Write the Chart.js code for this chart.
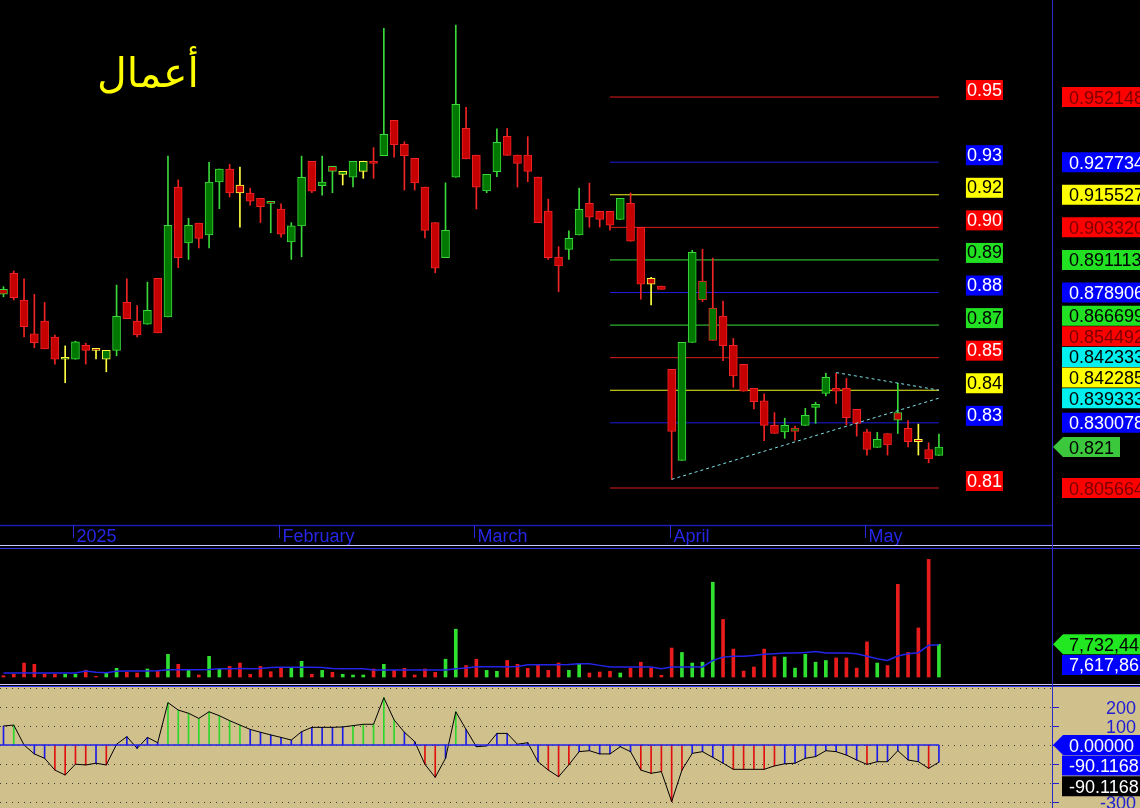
<!DOCTYPE html>
<html>
<head>
<meta charset="utf-8">
<script src="https://cdn.jsdelivr.net/npm/chart.js@4.4.1/dist/chart.umd.min.js"></script>
<style>
  body { margin: 0; background: #000; width: 1140px; height: 808px; overflow: hidden; position: relative; }
  canvas { position: absolute; left: 0; }
  #title { position: absolute; left: 97px; top: 53px; color: #ffff00; font: 41px/41px "DejaVu Sans", sans-serif; white-space: nowrap; direction: rtl; }
  .sep { position: absolute; left: 0; width: 1140px; height: 1px; }
  #vline { position: absolute; left: 1052px; top: 0; width: 1px; height: 808px; background: #2a2ac8; }
</style>
</head>
<body>
<canvas id="priceChart" width="1140" height="545" style="top:0"></canvas>
<canvas id="volumeChart" width="1140" height="135" style="top:549px"></canvas>
<canvas id="cciChart" width="1140" height="121" style="top:687px"></canvas>
<div class="sep" style="top:545px;background:#c8c8ff"></div>
<div class="sep" style="top:548px;background:#3232e6"></div>
<div class="sep" style="top:684px;background:#c8c8ff"></div>
<div class="sep" style="top:686px;background:#3232e6"></div>
<div id="vline"></div>
<div id="title">أعمال</div>

<script>
// ---- data (one entry per trading session, Dec 2024 - May 2025) ----
const monthStarts = [7, 27, 46, 65, 84];
const monthNames = ['2025', 'February', 'March', 'April', 'May'];

const open = [0.8801, 0.8861, 0.8761, 0.8634, 0.8682, 0.8622, 0.8539, 0.8539, 0.8591, 0.8580,
  0.8539, 0.8572, 0.8752, 0.8682, 0.8670, 0.8842, 0.8698, 0.9184, 0.8975, 0.9049,
  0.9005, 0.9203, 0.9252, 0.9192, 0.9162, 0.9142, 0.9124, 0.9102, 0.8979, 0.9039,
  0.9281, 0.9189, 0.9262, 0.9232, 0.9221, 0.9243, 0.9281, 0.9302, 0.9434, 0.9344,
  0.9292, 0.9184, 0.9051, 0.8920, 0.9221, 0.9404, 0.9304, 0.9170, 0.9242, 0.9374,
  0.9304, 0.9304, 0.9222, 0.9094, 0.8922, 0.8951, 0.9005, 0.9123, 0.9093, 0.9093,
  0.9063, 0.9123, 0.9033, 0.8842, 0.8813, 0.8501, 0.8160, 0.8602, 0.8761, 0.8610,
  0.8701, 0.8591, 0.8520, 0.8430, 0.8383, 0.8291, 0.8267, 0.8269, 0.8291, 0.8359,
  0.8411, 0.8430, 0.8430, 0.8351, 0.8267, 0.8209, 0.8261, 0.8339, 0.8280, 0.8239,
  0.8201, 0.8179];
const high = [0.8811, 0.8870, 0.8840, 0.8782, 0.8752, 0.8630, 0.8589, 0.8607, 0.8599, 0.8580,
  0.8572, 0.8817, 0.8840, 0.8740, 0.8828, 0.8842, 0.9300, 0.9211, 0.9067, 0.9049,
  0.9277, 0.9252, 0.9269, 0.9259, 0.9180, 0.9142, 0.9124, 0.9121, 0.9051, 0.9300,
  0.9281, 0.9300, 0.9262, 0.9243, 0.9281, 0.9281, 0.9332, 0.9779, 0.9434, 0.9354,
  0.9292, 0.9184, 0.9051, 0.9200, 0.9791, 0.9483, 0.9304, 0.9232, 0.9402, 0.9404,
  0.9304, 0.9373, 0.9222, 0.9139, 0.8961, 0.9020, 0.9180, 0.9199, 0.9093, 0.9093,
  0.9142, 0.9162, 0.9033, 0.8846, 0.8813, 0.8501, 0.8602, 0.8947, 0.8951, 0.8918,
  0.8757, 0.8617, 0.8520, 0.8430, 0.8409, 0.8339, 0.8318, 0.8289, 0.8355, 0.8378,
  0.8486, 0.8486, 0.8467, 0.8351, 0.8276, 0.8265, 0.8261, 0.8449, 0.8309, 0.8296,
  0.8226, 0.8259];
const low = [0.8773, 0.8761, 0.8623, 0.8582, 0.8578, 0.8521, 0.8451, 0.8539, 0.8521, 0.8540,
  0.8492, 0.8552, 0.8691, 0.8623, 0.8670, 0.8638, 0.8698, 0.8882, 0.8913, 0.8956,
  0.8956, 0.9103, 0.9147, 0.9034, 0.9116, 0.9051, 0.9013, 0.8996, 0.8913, 0.8923,
  0.9163, 0.9154, 0.9163, 0.9192, 0.9185, 0.9217, 0.9217, 0.9302, 0.9296, 0.9173,
  0.9173, 0.8994, 0.8863, 0.8920, 0.9221, 0.9290, 0.9102, 0.9163, 0.9223, 0.9303,
  0.9184, 0.9204, 0.9051, 0.8913, 0.8792, 0.8913, 0.9005, 0.9034, 0.9034, 0.9023,
  0.9063, 0.8981, 0.8764, 0.8743, 0.8801, 0.8089, 0.8160, 0.8602, 0.8755, 0.8610,
  0.8534, 0.8434, 0.8419, 0.8353, 0.8234, 0.8261, 0.8243, 0.8236, 0.8291, 0.8299,
  0.8402, 0.8374, 0.8293, 0.8251, 0.8180, 0.8209, 0.8180, 0.8261, 0.8211, 0.8180,
  0.8151, 0.8179];
const close = [0.8783, 0.8770, 0.8661, 0.8601, 0.8578, 0.8539, 0.8539, 0.8604, 0.8572, 0.8572,
  0.8572, 0.8700, 0.8691, 0.8630, 0.8722, 0.8638, 0.9041, 0.8920, 0.9041, 0.8992,
  0.9203, 0.9252, 0.9162, 0.9162, 0.9131, 0.9111, 0.9123, 0.9008, 0.9039, 0.9221,
  0.9169, 0.9203, 0.9243, 0.9243, 0.9281, 0.9281, 0.9273, 0.9382, 0.9343, 0.9302,
  0.9200, 0.9022, 0.8880, 0.9022, 0.9494, 0.9290, 0.9184, 0.9232, 0.9352, 0.9303,
  0.9273, 0.9243, 0.9051, 0.8920, 0.8889, 0.8992, 0.9101, 0.9071, 0.9063, 0.9041,
  0.9142, 0.8981, 0.8820, 0.8820, 0.8801, 0.8269, 0.8602, 0.8940, 0.8832, 0.8731,
  0.8590, 0.8477, 0.8419, 0.8380, 0.8291, 0.8261, 0.8291, 0.8281, 0.8329, 0.8370,
  0.8471, 0.8419, 0.8320, 0.8299, 0.8201, 0.8239, 0.8218, 0.8311, 0.8230, 0.8230,
  0.8166, 0.821];

const volume = [300000, 630000, 3300000, 3000000, 630000, 630000, 630000, 630000, 1600000, 150000,
  1100000, 2050000, 1100000, 950000, 1900000, 1340000, 5350000, 3000000, 1570000, 470000,
  4880000, 1900000, 2500000, 3300000, 630000, 2500000, 1260000, 2050000, 2050000, 3700000,
  630000, 1570000, 1100000, 630000, 470000, 470000, 1900000, 3000000, 1570000, 2050000,
  470000, 1900000, 1100000, 4200000, 11300000, 2700000, 4200000, 1570000, 1340000, 3900000,
  3000000, 2050000, 3000000, 1570000, 3300000, 1570000, 3150000, 950000, 1180000, 1340000,
  950000, 2100000, 3500000, 2100000, 400000, 6850000, 5800000, 3300000, 3500000, 22400000,
  13600000, 6600000, 1400000, 2360000, 6600000, 4800000, 4700000, 2100000, 5350000, 3500000,
  3900000, 4500000, 4500000, 2100000, 8300000, 3300000, 2700000, 21900000, 5800000, 11600000,
  27800000, 7732443];
const volumeAvg = [940000, 940000, 940000, 950000, 940000, 940000, 950000, 960000, 1420000, 1100000,
  1020000, 1340000, 1420000, 1420000, 1430000, 1450000, 1700000, 1730000, 1740000, 1730000,
  1760000, 1950000, 1970000, 1980000, 1970000, 2000000, 2250000, 2280000, 2290000, 2300000,
  2280000, 2250000, 1990000, 1970000, 1960000, 1950000, 1680000, 1650000, 1650000, 1640000,
  1650000, 1660000, 1650000, 1680000, 1970000, 2120000, 2420000, 2440000, 2450000, 2440000,
  2500000, 2880000, 2900000, 2910000, 2900000, 2930000, 3150000, 3150000, 2750000, 2380000,
  2360000, 2360000, 2370000, 2360000, 1970000, 2360000, 2350000, 2360000, 2380000, 3900000,
  4700000, 4900000, 4900000, 5100000, 5350000, 5500000, 5660000, 5660000, 5800000, 6050000,
  5660000, 5660000, 5660000, 5500000, 4900000, 4300000, 3900000, 4950000, 5500000, 5740000,
  7500000, 7617862];

const cci = [100, 105, 0, -47, -70, -132, -158, -101, -105, -96,
  -105, 4, 44, -18, 40, 12, 223, 184, 167, 140,
  175, 154, 128, 105, 82, 67, 53, 40, 26, 70,
  93, 93, 93, 95, 102, 109, 109, 249, 132, 67,
  18, -102, -170, -70, 175, 82, -9, -5, 61, 61,
  4, 12, -88, -132, -167, -104, -35, -30, -47, -47,
  -9, -35, -132, -149, -140, -298, -132, -44, -35, -65,
  -96, -128, -128, -128, -128, -110, -99, -96, -70, -61,
  -30, -35, -53, -79, -102, -88, -88, -30, -79, -88,
  -123, -90.1168];
const cciZero = 0;
const cciTicks = [200, 100, 0, -100, -200, -300];

const priceLevels = [0.952148, 0.927734, 0.915527, 0.903320, 0.891113, 0.878906, 0.866699, 0.854492, 0.842285, 0.830078, 0.805664];
const levelKinds = ['red', 'blue', 'yellow', 'red', 'green', 'blue', 'green', 'red', 'yellow', 'blue', 'red'];
const levelFrom = 59, levelTo = 91;

const trendUpperIdx = [81, 91], trendUpperVal = [0.8489, 0.842333];
const trendLowerIdx = [65, 91], trendLowerVal = [0.8089, 0.839333];

// ---- styling ----
const xMin = -0.34, xMax = 102;
const FONT = '18px "Liberation Sans", Arial, sans-serif';
const LINE = { red: '#e01c1c', blue: '#1c1cdc', yellow: '#f4f420', green: '#3cdc3c', cyan: '#80e4ee' };
const BOX = { red: '#ff0000', blue: '#0000ff', yellow: '#ffff00', green: '#22e022', cyan: '#00f0f0' };
const BOXTEXT = { red: '#7a0000', blue: '#ffffff', yellow: '#000000', green: '#000000', cyan: '#000000' };
const TAGTEXT = { red: '#ffffff', blue: '#ffffff', yellow: '#000000', green: '#000000', cyan: '#000000' };

const last = close.length - 1;
const edgeKind = close.map((c, i) => i === 0 ? 'up' : c > close[i - 1] ? 'up' : c < close[i - 1] ? 'down' : 'flat');
const edgeColor = edgeKind.map(k => k === 'up' ? '#3ad83a' : k === 'down' ? '#f02424' : '#ffff40');
const fillColor = close.map((c, i) => c >= open[i] ? '#007800' : '#c40000');

function baseOptions(yMin, yMax, padding) {
  return {
    responsive: false,
    animation: false,
    events: [],
    layout: { padding: padding },
    plugins: { legend: { display: false }, tooltip: { enabled: false } },
    scales: {
      x: { type: 'linear', min: xMin, max: xMax, display: false, offset: false },
      y: { min: yMin, max: yMax, display: false }
    }
  };
}

function drawTag(ctx, cy, text, bg, fg, arrow, right) {
  const left = arrow ? 1063 : 1062;
  right = right || 1140;
  ctx.fillStyle = bg;
  ctx.beginPath();
  if (arrow) { ctx.moveTo(1053, cy); ctx.lineTo(left, cy - 10); } else { ctx.moveTo(left, cy - 10); }
  ctx.lineTo(right, cy - 10);
  ctx.lineTo(right, cy + 10);
  ctx.lineTo(left, cy + 10);
  ctx.closePath();
  ctx.fill();
  ctx.fillStyle = fg;
  ctx.textAlign = 'left';
  ctx.fillText(text, 1069, cy + 6.5);
}

// ---- price panel ----
const priceOverlay = {
  id: 'priceOverlay',
  afterDraw(chart) {
    const { ctx, chartArea, scales: { x, y } } = chart;
    ctx.save();
    ctx.font = FONT;
    ctx.textBaseline = 'alphabetic';

    // time axis
    ctx.strokeStyle = '#1c1cb4';
    ctx.lineWidth = 1.5;
    ctx.beginPath();
    ctx.moveTo(0, chartArea.bottom + 0.5);
    ctx.lineTo(chartArea.right, chartArea.bottom + 0.5);
    ctx.stroke();
    ctx.lineWidth = 1;
    monthStarts.forEach((idx, k) => {
      const px = Math.round(x.getPixelForValue(idx)) - 1.5;
      ctx.strokeStyle = '#2a2ad8';
      ctx.beginPath();
      ctx.moveTo(px, chartArea.bottom);
      ctx.lineTo(px, chartArea.bottom + 13);
      ctx.stroke();
      ctx.fillStyle = '#2626e6';
      ctx.fillText(monthNames[k], px + 3, chartArea.bottom + 17);
    });

    // short level tags next to the lines
    const tagX = x.getPixelForValue(levelTo) + 27;
    priceLevels.forEach((v, k) => {
      const py = y.getPixelForValue(v);
      const kind = levelKinds[k];
      ctx.fillStyle = BOX[kind];
      ctx.fillRect(tagX, py - 17, 37, 20);
      ctx.fillStyle = TAGTEXT[kind];
      ctx.fillText(v.toFixed(2), tagX + 1, py - 1.5);
    });

    // right scale tags, pushed up so they do not overlap
    const items = priceLevels.map((v, k) => ({ v, text: v.toFixed(6), kind: levelKinds[k] }));
    items.push({ v: trendUpperVal[1], text: trendUpperVal[1].toFixed(6), kind: 'cyan' });
    items.push({ v: trendLowerVal[1], text: trendLowerVal[1].toFixed(6), kind: 'cyan' });
    items.push({ v: close[last], text: close[last].toFixed(3), kind: 'current' });
    items.sort((a, b) => a.v - b.v);
    let prev = Infinity;
    items.forEach(it => {
      it.cy = Math.min(y.getPixelForValue(it.v), prev - 20.6);
      prev = it.cy;
    });
    ctx.beginPath();
    ctx.rect(1053, 0, 87, chartArea.bottom);
    ctx.clip();
    items.forEach(it => {
      if (it.kind === 'current') drawTag(ctx, it.cy, it.text, '#3cc83c', '#000000', true, 1120);
      else drawTag(ctx, it.cy, it.text, BOX[it.kind], BOXTEXT[it.kind], false);
    });
    ctx.restore();
  }
};

const idx = close.map((_, i) => i);
const priceDatasets = priceLevels.map((v, k) => ({
  type: 'line',
  data: [{ x: levelFrom, y: v }, { x: levelTo, y: v }],
  borderColor: LINE[levelKinds[k]],
  borderWidth: 1,
  pointRadius: 0,
  order: 4
}));
priceDatasets.push({
  type: 'line',
  data: trendUpperIdx.map((i, k) => ({ x: i, y: trendUpperVal[k] })),
  borderColor: LINE.cyan, borderWidth: 1, borderDash: [3, 3], pointRadius: 0, order: 0
});
priceDatasets.push({
  type: 'line',
  data: trendLowerIdx.map((i, k) => ({ x: i, y: trendLowerVal[k] })),
  borderColor: LINE.cyan, borderWidth: 1, borderDash: [3, 3], pointRadius: 0, order: 0
});
priceDatasets.push({
  type: 'bar',
  data: idx.map(i => ({ x: i, y: [low[i], high[i]] })),
  backgroundColor: edgeColor,
  borderWidth: 0,
  barThickness: 1,
  grouped: false,
  order: 3
});
priceDatasets.push({
  type: 'bar',
  data: idx.map(i => ({ x: i, y: [open[i], close[i]] })),
  backgroundColor: fillColor,
  borderColor: edgeColor,
  borderWidth: 1,
  borderSkipped: false,
  barThickness: 8,
  minBarLength: 2,
  grouped: false,
  order: 1
});

const pxPerUnit = 2669;           // price panel: 0.805664 sits 488px down, chart area 525px tall
const priceMax = 0.805664 + 488 / pxPerUnit;
const priceMin = priceMax - 525 / pxPerUnit;

new Chart(document.getElementById('priceChart').getContext('2d'), {
  type: 'bar',
  data: { datasets: priceDatasets },
  options: baseOptions(priceMin, priceMax, { left: 0, right: 88, top: 0, bottom: 20 }),
  plugins: [priceOverlay]
});

// ---- volume panel ----
const volOverlay = {
  id: 'volOverlay',
  afterDraw(chart) {
    const { ctx, scales: { y } } = chart;
    ctx.save();
    ctx.font = FONT;
    ctx.textBaseline = 'alphabetic';
    ctx.beginPath();
    ctx.rect(1053, 0, 87, chart.height);
    ctx.clip();
    const vy = y.getPixelForValue(volume[last]);
    const ay = Math.max(y.getPixelForValue(volumeAvg[last]), vy + 20.6);
    drawTag(ctx, vy, volume[last].toLocaleString('en-US'), '#22e822', '#000000', true);
    drawTag(ctx, ay, volumeAvg[last].toLocaleString('en-US'), '#0000ff', '#ffffff', false);
    ctx.restore();
  }
};

const volStep = 236400;           // shares per pixel
new Chart(document.getElementById('volumeChart').getContext('2d'), {
  type: 'bar',
  data: {
    datasets: [
      {
        type: 'line',
        data: idx.map(i => ({ x: i, y: volumeAvg[i] })),
        borderColor: '#2424e8',
        borderWidth: 1.5,
        pointRadius: 0,
        order: 0
      },
      {
        type: 'bar',
        data: idx.map(i => ({ x: i, y: volume[i] })),
        backgroundColor: close.map((c, i) => c >= open[i] ? '#30e030' : '#e81c1c'),
        barThickness: 3,
        grouped: false,
        order: 1
      }
    ]
  },
  options: baseOptions(-7 * volStep, 128 * volStep, { left: 0, right: 88, top: 0, bottom: 0 }),
  plugins: [volOverlay]
});

// ---- oscillator panel ----
const cciOverlay = {
  id: 'cciOverlay',
  beforeDraw(chart) {
    const { ctx, chartArea, scales: { y } } = chart;
    ctx.save();
    ctx.fillStyle = '#d0c08c';
    ctx.fillRect(0, 0, chart.width, chart.height);
    ctx.strokeStyle = '#3c3c3c';
    ctx.lineWidth = 1;
    ctx.setLineDash([1, 5]);
    for (let v = -300; v <= 300; v += 100) {
      const py = Math.round(y.getPixelForValue(v)) + 0.5;
      ctx.beginPath();
      ctx.moveTo(0, py);
      ctx.lineTo(chartArea.right, py);
      ctx.stroke();
    }
    ctx.restore();
  },
  afterDraw(chart) {
    const { ctx, scales: { y } } = chart;
    ctx.save();
    ctx.font = FONT;
    ctx.textBaseline = 'alphabetic';
    ctx.strokeStyle = '#2020d0';
    ctx.fillStyle = '#2020d0';
    ctx.textAlign = 'right';
    cciTicks.forEach(v => {
      const py = Math.round(y.getPixelForValue(v)) + 0.5;
      ctx.beginPath();
      ctx.moveTo(1052, py);
      ctx.lineTo(1059, py);
      ctx.stroke();
      ctx.fillText(String(v), 1136, py + 6.5);
    });
    ctx.beginPath();
    ctx.rect(1053, 0, 87, chart.height);
    ctx.clip();
    const zy = y.getPixelForValue(cciZero);
    const by = Math.max(y.getPixelForValue(cci[last]), zy + 20.6);
    const ky = Math.max(y.getPixelForValue(cci[last]), by + 20.6);
    drawTag(ctx, zy, cciZero.toFixed(5), '#0000ff', '#ffffff', true);
    drawTag(ctx, by, cci[last].toFixed(4), '#0000ff', '#ffffff', false);
    drawTag(ctx, ky, cci[last].toFixed(4), '#000000', '#ffffff', false);
    ctx.restore();
  }
};

const cciStep = 0.19;             // pixels per unit
new Chart(document.getElementById('cciChart').getContext('2d'), {
  type: 'bar',
  data: {
    datasets: [
      {
        type: 'line',
        data: [{ x: xMin - 1, y: cciZero }, { x: last, y: cciZero }],
        borderColor: '#2222ee',
        borderWidth: 1.5,
        pointRadius: 0,
        order: 0
      },
      {
        type: 'line',
        data: idx.map(i => ({ x: i, y: cci[i] })),
        borderColor: '#000000',
        borderWidth: 1,
        pointRadius: 0,
        order: 1
      },
      {
        type: 'bar',
        data: idx.map(i => ({ x: i, y: cci[i] })),
        backgroundColor: cci.map(v => v > 100 ? '#2cd82c' : v < -100 ? '#e01010' : '#1c1ce6'),
        barThickness: 1,
        grouped: false,
        order: 2
      }
    ]
  },
  options: baseOptions(-63 / cciStep, 58 / cciStep, { left: 0, right: 88, top: 0, bottom: 0 }),
  plugins: [cciOverlay]
});
</script>
</body>
</html>
